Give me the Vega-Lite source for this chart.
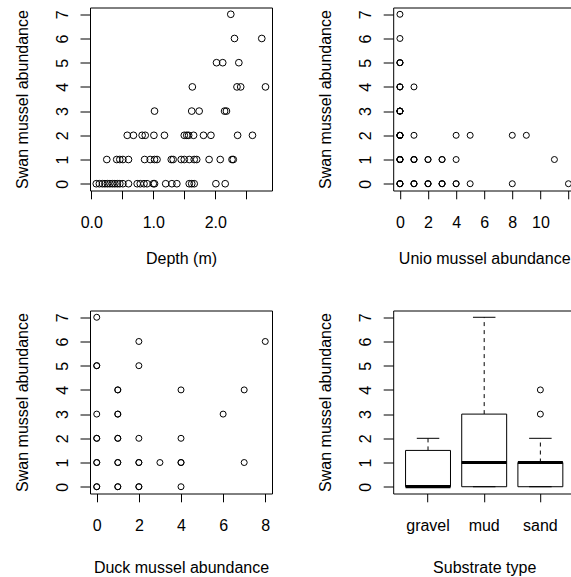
{
  "$schema": "https://vega.github.io/schema/vega-lite/v6.json",
  "padding": {"left": 13, "top": 6.5, "right": -2, "bottom": 2},
  "background": "white",
  "datasets": {
    "depth": [
      {"depth": 2.25, "swan": 7},
      {"depth": 2.31, "swan": 6}, {"depth": 2.75, "swan": 6},
      {"depth": 2.02, "swan": 5}, {"depth": 2.12, "swan": 5}, {"depth": 2.38, "swan": 5},
      {"depth": 1.63, "swan": 4}, {"depth": 2.35, "swan": 4}, {"depth": 2.41, "swan": 4}, {"depth": 2.81, "swan": 4},
      {"depth": 1.02, "swan": 3}, {"depth": 1.62, "swan": 3}, {"depth": 1.74, "swan": 3}, {"depth": 2.15, "swan": 3}, {"depth": 2.18, "swan": 3},
      {"depth": 0.58, "swan": 2}, {"depth": 0.68, "swan": 2}, {"depth": 0.82, "swan": 2}, {"depth": 0.87, "swan": 2}, {"depth": 1.01, "swan": 2}, {"depth": 1.18, "swan": 2}, {"depth": 1.50, "swan": 2}, {"depth": 1.54, "swan": 2}, {"depth": 1.57, "swan": 2}, {"depth": 1.65, "swan": 2}, {"depth": 1.81, "swan": 2}, {"depth": 1.93, "swan": 2}, {"depth": 2.36, "swan": 2}, {"depth": 2.60, "swan": 2},
      {"depth": 0.25, "swan": 1}, {"depth": 0.41, "swan": 1}, {"depth": 0.46, "swan": 1}, {"depth": 0.51, "swan": 1}, {"depth": 0.60, "swan": 1}, {"depth": 0.86, "swan": 1}, {"depth": 0.95, "swan": 1}, {"depth": 1.02, "swan": 1}, {"depth": 1.06, "swan": 1}, {"depth": 1.29, "swan": 1}, {"depth": 1.32, "swan": 1}, {"depth": 1.45, "swan": 1}, {"depth": 1.50, "swan": 1}, {"depth": 1.58, "swan": 1}, {"depth": 1.66, "swan": 1}, {"depth": 1.70, "swan": 1}, {"depth": 1.90, "swan": 1}, {"depth": 2.08, "swan": 1}, {"depth": 2.27, "swan": 1}, {"depth": 2.29, "swan": 1},
      {"depth": 0.08, "swan": 0}, {"depth": 0.13, "swan": 0}, {"depth": 0.18, "swan": 0}, {"depth": 0.22, "swan": 0}, {"depth": 0.26, "swan": 0}, {"depth": 0.30, "swan": 0}, {"depth": 0.34, "swan": 0}, {"depth": 0.38, "swan": 0}, {"depth": 0.42, "swan": 0}, {"depth": 0.46, "swan": 0}, {"depth": 0.51, "swan": 0}, {"depth": 0.60, "swan": 0}, {"depth": 0.74, "swan": 0}, {"depth": 0.79, "swan": 0}, {"depth": 0.85, "swan": 0}, {"depth": 0.90, "swan": 0}, {"depth": 1.00, "swan": 0}, {"depth": 1.02, "swan": 0}, {"depth": 1.20, "swan": 0}, {"depth": 1.30, "swan": 0}, {"depth": 1.38, "swan": 0}, {"depth": 1.58, "swan": 0}, {"depth": 1.62, "swan": 0}, {"depth": 1.66, "swan": 0}, {"depth": 2.01, "swan": 0}, {"depth": 2.16, "swan": 0}
    ],
    "unio": [
      {"unio": 0, "swan": 7},
      {"unio": 0, "swan": 6},
      {"unio": 0, "swan": 5}, {"unio": 0, "swan": 5}, {"unio": 0, "swan": 5},
      {"unio": 0, "swan": 4}, {"unio": 0, "swan": 4}, {"unio": 0, "swan": 4}, {"unio": 1, "swan": 4},
      {"unio": 0, "swan": 3}, {"unio": 0, "swan": 3}, {"unio": 0, "swan": 3}, {"unio": 0, "swan": 3}, {"unio": 0, "swan": 3},
      {"unio": 0, "swan": 2}, {"unio": 0, "swan": 2}, {"unio": 0, "swan": 2}, {"unio": 0, "swan": 2}, {"unio": 0, "swan": 2}, {"unio": 0, "swan": 2}, {"unio": 1, "swan": 2}, {"unio": 4, "swan": 2}, {"unio": 5, "swan": 2}, {"unio": 8, "swan": 2}, {"unio": 9, "swan": 2},
      {"unio": 0, "swan": 1}, {"unio": 0, "swan": 1}, {"unio": 0, "swan": 1}, {"unio": 0, "swan": 1}, {"unio": 0, "swan": 1}, {"unio": 1, "swan": 1}, {"unio": 1, "swan": 1}, {"unio": 1, "swan": 1}, {"unio": 2, "swan": 1}, {"unio": 2, "swan": 1}, {"unio": 3, "swan": 1}, {"unio": 3, "swan": 1}, {"unio": 4, "swan": 1}, {"unio": 11, "swan": 1},
      {"unio": 0, "swan": 0}, {"unio": 0, "swan": 0}, {"unio": 0, "swan": 0}, {"unio": 0, "swan": 0}, {"unio": 1, "swan": 0}, {"unio": 1, "swan": 0}, {"unio": 1, "swan": 0}, {"unio": 2, "swan": 0}, {"unio": 2, "swan": 0}, {"unio": 2, "swan": 0}, {"unio": 3, "swan": 0}, {"unio": 3, "swan": 0}, {"unio": 3, "swan": 0}, {"unio": 4, "swan": 0}, {"unio": 4, "swan": 0}, {"unio": 5, "swan": 0}, {"unio": 8, "swan": 0}, {"unio": 12, "swan": 0}
    ],
    "duck": [
      {"duck": 0, "swan": 7},
      {"duck": 2, "swan": 6}, {"duck": 8, "swan": 6},
      {"duck": 0, "swan": 5}, {"duck": 0, "swan": 5}, {"duck": 2, "swan": 5},
      {"duck": 1, "swan": 4}, {"duck": 1, "swan": 4}, {"duck": 4, "swan": 4}, {"duck": 7, "swan": 4},
      {"duck": 0, "swan": 3}, {"duck": 1, "swan": 3}, {"duck": 1, "swan": 3}, {"duck": 6, "swan": 3},
      {"duck": 0, "swan": 2}, {"duck": 0, "swan": 2}, {"duck": 1, "swan": 2}, {"duck": 1, "swan": 2}, {"duck": 2, "swan": 2}, {"duck": 4, "swan": 2},
      {"duck": 0, "swan": 1}, {"duck": 0, "swan": 1}, {"duck": 1, "swan": 1}, {"duck": 1, "swan": 1}, {"duck": 2, "swan": 1}, {"duck": 2, "swan": 1}, {"duck": 3, "swan": 1}, {"duck": 4, "swan": 1}, {"duck": 4, "swan": 1}, {"duck": 7, "swan": 1},
      {"duck": 0, "swan": 0}, {"duck": 0, "swan": 0}, {"duck": 1, "swan": 0}, {"duck": 1, "swan": 0}, {"duck": 2, "swan": 0}, {"duck": 2, "swan": 0}, {"duck": 4, "swan": 0}
    ],
    "boxstats": [
      {"substrate": "gravel", "lo": 0, "q1": 0, "med": 0, "q3": 1.5, "hi": 2},
      {"substrate": "mud", "lo": 0, "q1": 0, "med": 1, "q3": 3, "hi": 7},
      {"substrate": "sand", "lo": 0, "q1": 0, "med": 1, "q3": 1, "hi": 2}
    ],
    "outliers": [
      {"substrate": "sand", "swan": 3},
      {"substrate": "sand", "swan": 4}
    ]
  },
  "columns": 2,
  "spacing": {"row": 120, "column": 121.2},
  "bounds": "flush",
  "concat": [
    {
      "width": 182, "height": 183,
      "data": {"name": "depth"},
      "mark": {"type": "point", "shape": "circle", "filled": false, "stroke": "black", "strokeWidth": 1, "size": 45, "opacity": 1},
      "encoding": {
        "x": {"field": "depth", "type": "quantitative", "scale": {"domain": [-0.021, 2.915], "nice": false, "zero": false},
              "axis": {"title": "Depth (m)", "values": [0, 0.5, 1, 1.5, 2, 2.5], "labelExpr": "datum.value % 1 === 0 ? format(datum.value, '.1f') : ''", "titleX": 91, "titleY": 73}},
        "y": {"field": "swan", "type": "quantitative", "scale": {"domain": [-0.28, 7.28], "nice": false, "zero": false},
              "axis": {"title": "Swan mussel abundance", "values": [0, 1, 2, 3, 4, 5, 6, 7], "titleY": 91.5}}
      }
    },
    {
      "width": 182, "height": 183,
      "data": {"name": "unio"},
      "mark": {"type": "point", "shape": "circle", "filled": false, "stroke": "black", "strokeWidth": 1, "size": 36, "opacity": 1},
      "encoding": {
        "x": {"field": "unio", "type": "quantitative", "scale": {"domain": [-0.48, 12.48], "nice": false, "zero": false},
              "axis": {"title": "Unio mussel abundance", "values": [0, 2, 4, 6, 8, 10, 12], "labelExpr": "datum.value > 11 ? '' : datum.label", "titleX": 91, "titleY": 73}},
        "y": {"field": "swan", "type": "quantitative", "scale": {"domain": [-0.28, 7.28], "nice": false, "zero": false},
              "axis": {"title": "Swan mussel abundance", "values": [0, 1, 2, 3, 4, 5, 6, 7], "titleY": 91.5}}
      }
    },
    {
      "width": 182, "height": 183,
      "data": {"name": "duck"},
      "mark": {"type": "point", "shape": "circle", "filled": false, "stroke": "black", "strokeWidth": 1, "size": 36, "opacity": 1},
      "encoding": {
        "x": {"field": "duck", "type": "quantitative", "scale": {"domain": [-0.32, 8.32], "nice": false, "zero": false},
              "axis": {"title": "Duck mussel abundance", "values": [0, 2, 4, 6, 8], "titleX": 91, "titleY": 79}},
        "y": {"field": "swan", "type": "quantitative", "scale": {"domain": [-0.28, 7.28], "nice": false, "zero": false},
              "axis": {"title": "Swan mussel abundance", "values": [0, 1, 2, 3, 4, 5, 6, 7], "titleY": 91.5}}
      }
    },
    {
      "width": 182, "height": 183,
      "encoding": {
        "x": {"field": "substrate", "type": "nominal", "sort": ["gravel", "mud", "sand"],
              "scale": {"paddingInner": 0.2, "paddingOuter": 0.22},
              "axis": {"title": "Substrate type", "labelAngle": 0, "titleX": 91, "titleY": 79}}
      },
      "layer": [
        {
          "data": {"name": "boxstats"},
          "mark": {"type": "rule", "color": "black", "strokeWidth": 1, "strokeDash": [4, 4]},
          "encoding": {
            "y": {"field": "q3", "type": "quantitative", "scale": {"domain": [-0.28, 7.28], "nice": false, "zero": false},
                  "axis": {"title": "Swan mussel abundance", "values": [0, 1, 2, 3, 4, 5, 6, 7], "titleY": 91.5}},
            "y2": {"field": "hi"}
          }
        },
        {
          "data": {"name": "boxstats"},
          "mark": {"type": "bar", "fill": "white", "stroke": "black", "strokeWidth": 1},
          "encoding": {
            "y": {"field": "q1", "type": "quantitative", "scale": {"domain": [-0.28, 7.28], "nice": false, "zero": false},
                  "axis": {"title": "Swan mussel abundance", "values": [0, 1, 2, 3, 4, 5, 6, 7], "titleY": 91.5}},
            "y2": {"field": "q3"}
          }
        },
        {
          "data": {"name": "boxstats"},
          "mark": {"type": "tick", "orient": "horizontal", "color": "black", "size": 22.5, "thickness": 1, "opacity": 1},
          "encoding": {"y": {"field": "hi", "type": "quantitative", "scale": {"domain": [-0.28, 7.28], "nice": false, "zero": false},
                  "axis": {"title": "Swan mussel abundance", "values": [0, 1, 2, 3, 4, 5, 6, 7], "titleY": 91.5}}}
        },
        {
          "data": {"name": "boxstats"},
          "mark": {"type": "tick", "orient": "horizontal", "color": "black", "size": 22.5, "thickness": 1, "opacity": 1},
          "encoding": {"y": {"field": "lo", "type": "quantitative", "scale": {"domain": [-0.28, 7.28], "nice": false, "zero": false},
                  "axis": {"title": "Swan mussel abundance", "values": [0, 1, 2, 3, 4, 5, 6, 7], "titleY": 91.5}}}
        },
        {
          "data": {"name": "boxstats"},
          "mark": {"type": "tick", "orient": "horizontal", "color": "black", "size": 45, "thickness": 3.2, "opacity": 1},
          "encoding": {"y": {"field": "med", "type": "quantitative", "scale": {"domain": [-0.28, 7.28], "nice": false, "zero": false},
                  "axis": {"title": "Swan mussel abundance", "values": [0, 1, 2, 3, 4, 5, 6, 7], "titleY": 91.5}}}
        },
        {
          "data": {"name": "outliers"},
          "mark": {"type": "point", "shape": "circle", "filled": false, "stroke": "black", "strokeWidth": 1, "size": 36, "opacity": 1},
          "encoding": {"y": {"field": "swan", "type": "quantitative", "scale": {"domain": [-0.28, 7.28], "nice": false, "zero": false},
                  "axis": {"title": "Swan mussel abundance", "values": [0, 1, 2, 3, 4, 5, 6, 7], "titleY": 91.5}}}
        }
      ]
    }
  ],
  "config": {
    "view": {"stroke": "black", "strokeWidth": 1},
    "font": "Liberation Sans",
    "axis": {
      "domain": false, "grid": false, "tickColor": "black", "tickWidth": 1,
      "labelColor": "black", "titleColor": "black",
      "labelFont": "Liberation Sans", "titleFont": "Liberation Sans",
      "labelFontSize": 16, "titleFontSize": 16, "titleFontWeight": "normal",
      "labelFlush": false, "labelOverlap": false, "labelBound": false
    },
    "axisX": {"tickSize": 8.3, "labelPadding": 28.3, "labelBaseline": "alphabetic", "labelAngle": 0, "labelAlign": "center", "titleBaseline": "alphabetic", "titleAngle": 0, "titleAlign": "center"},
    "axisY": {"tickSize": 10, "labelPadding": 12.5, "labelAngle": -90, "labelAlign": "center", "labelBaseline": "alphabetic", "titleAngle": -90, "titleBaseline": "alphabetic", "titleAlign": "center", "titleX": -62.5}
  }
}
